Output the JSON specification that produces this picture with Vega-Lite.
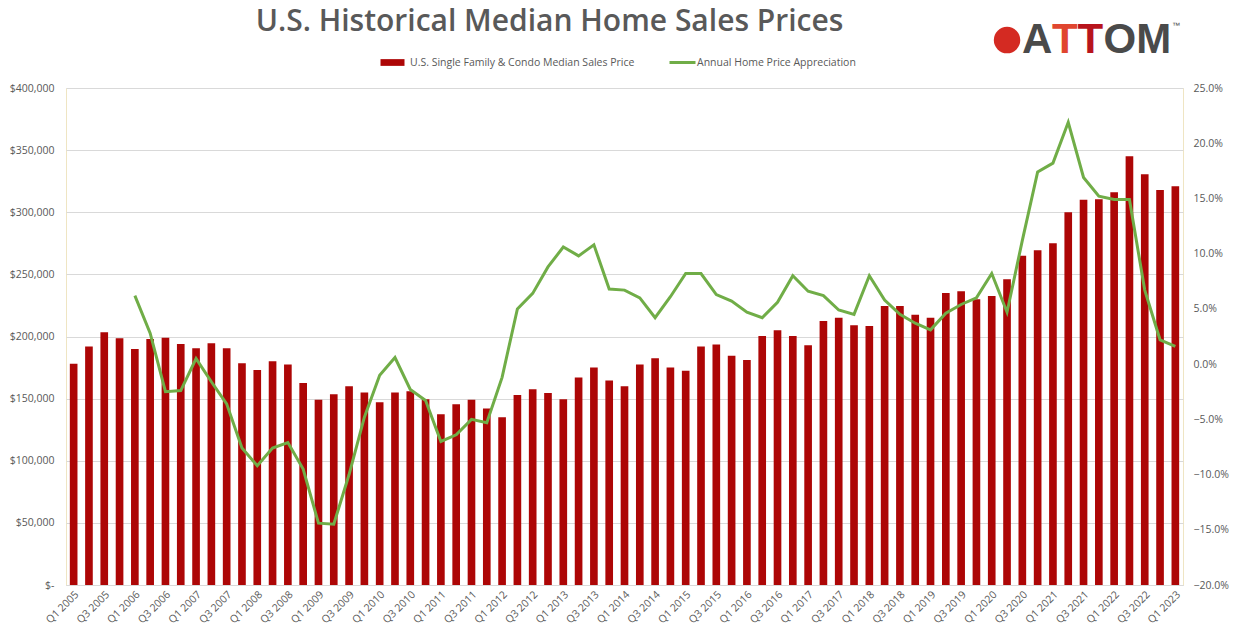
{
  "$schema": "https://vega.github.io/schema/vega-lite/v6.json",
  "width": 1117,
  "height": 497,
  "autosize": {"type": "none"},
  "padding": {"left": 66, "top": 88, "right": 54, "bottom": 55},
  "background": "white",
  "title": {
    "text": "U.S. Historical Median Home Sales Prices",
    "anchor": "middle",
    "frame": "group",
    "dx": -75,
    "offset": -48,
    "baseline": "bottom",
    "fontSize": 30,
    "font": "Open Sans",
    "fontWeight": 600,
    "color": "#595959"
  },
  "data": {
    "values": [
      {"q": "Q1 2005", "price": 178000, "yoy": null},
      {"q": "Q2 2005", "price": 192000, "yoy": null},
      {"q": "Q3 2005", "price": 203500, "yoy": null},
      {"q": "Q4 2005", "price": 198500, "yoy": null},
      {"q": "Q1 2006", "price": 190000, "yoy": 6.2},
      {"q": "Q2 2006", "price": 198000, "yoy": 2.8},
      {"q": "Q3 2006", "price": 199000, "yoy": -2.5},
      {"q": "Q4 2006", "price": 194000, "yoy": -2.4},
      {"q": "Q1 2007", "price": 190500, "yoy": 0.5},
      {"q": "Q2 2007", "price": 194500, "yoy": -1.6},
      {"q": "Q3 2007", "price": 190500, "yoy": -3.6},
      {"q": "Q4 2007", "price": 178500, "yoy": -7.6},
      {"q": "Q1 2008", "price": 173000, "yoy": -9.2},
      {"q": "Q2 2008", "price": 180000, "yoy": -7.6},
      {"q": "Q3 2008", "price": 177500, "yoy": -7.1},
      {"q": "Q4 2008", "price": 162500, "yoy": -9.5},
      {"q": "Q1 2009", "price": 149000, "yoy": -14.4},
      {"q": "Q2 2009", "price": 153500, "yoy": -14.5},
      {"q": "Q3 2009", "price": 160000, "yoy": -10.0},
      {"q": "Q4 2009", "price": 155000, "yoy": -4.8},
      {"q": "Q1 2010", "price": 147000, "yoy": -1.0},
      {"q": "Q2 2010", "price": 155000, "yoy": 0.6},
      {"q": "Q3 2010", "price": 156000, "yoy": -2.3},
      {"q": "Q4 2010", "price": 149500, "yoy": -3.3},
      {"q": "Q1 2011", "price": 137500, "yoy": -7.0},
      {"q": "Q2 2011", "price": 145500, "yoy": -6.4},
      {"q": "Q3 2011", "price": 149000, "yoy": -5.0},
      {"q": "Q4 2011", "price": 142000, "yoy": -5.3},
      {"q": "Q1 2012", "price": 135000, "yoy": -1.2},
      {"q": "Q2 2012", "price": 153000, "yoy": 5.0},
      {"q": "Q3 2012", "price": 157500, "yoy": 6.4},
      {"q": "Q4 2012", "price": 154500, "yoy": 8.8},
      {"q": "Q1 2013", "price": 149500, "yoy": 10.6},
      {"q": "Q2 2013", "price": 167000, "yoy": 9.8},
      {"q": "Q3 2013", "price": 175000, "yoy": 10.8},
      {"q": "Q4 2013", "price": 164500, "yoy": 6.8},
      {"q": "Q1 2014", "price": 160000, "yoy": 6.7},
      {"q": "Q2 2014", "price": 177500, "yoy": 6.0},
      {"q": "Q3 2014", "price": 182500, "yoy": 4.2},
      {"q": "Q4 2014", "price": 175000, "yoy": 6.1},
      {"q": "Q1 2015", "price": 172500, "yoy": 8.2},
      {"q": "Q2 2015", "price": 192000, "yoy": 8.2},
      {"q": "Q3 2015", "price": 193500, "yoy": 6.3},
      {"q": "Q4 2015", "price": 184500, "yoy": 5.7},
      {"q": "Q1 2016", "price": 181000, "yoy": 4.7},
      {"q": "Q2 2016", "price": 200500, "yoy": 4.2},
      {"q": "Q3 2016", "price": 205000, "yoy": 5.6},
      {"q": "Q4 2016", "price": 200500, "yoy": 8.0},
      {"q": "Q1 2017", "price": 193000, "yoy": 6.6},
      {"q": "Q2 2017", "price": 212500, "yoy": 6.2},
      {"q": "Q3 2017", "price": 215000, "yoy": 4.9},
      {"q": "Q4 2017", "price": 209000, "yoy": 4.5},
      {"q": "Q1 2018", "price": 208500, "yoy": 8.0},
      {"q": "Q2 2018", "price": 224500, "yoy": 5.8},
      {"q": "Q3 2018", "price": 224500, "yoy": 4.5},
      {"q": "Q4 2018", "price": 217500, "yoy": 3.7},
      {"q": "Q1 2019", "price": 215000, "yoy": 3.1},
      {"q": "Q2 2019", "price": 235000, "yoy": 4.6},
      {"q": "Q3 2019", "price": 236500, "yoy": 5.4},
      {"q": "Q4 2019", "price": 230000, "yoy": 6.0},
      {"q": "Q1 2020", "price": 232500, "yoy": 8.2},
      {"q": "Q2 2020", "price": 246000, "yoy": 4.7},
      {"q": "Q3 2020", "price": 265000, "yoy": 11.2},
      {"q": "Q4 2020", "price": 269500, "yoy": 17.4},
      {"q": "Q1 2021", "price": 275000, "yoy": 18.2},
      {"q": "Q2 2021", "price": 300000, "yoy": 21.9},
      {"q": "Q3 2021", "price": 310000, "yoy": 16.9},
      {"q": "Q4 2021", "price": 310500, "yoy": 15.2},
      {"q": "Q1 2022", "price": 316000, "yoy": 14.9},
      {"q": "Q2 2022", "price": 345000, "yoy": 14.9},
      {"q": "Q3 2022", "price": 330500, "yoy": 6.7},
      {"q": "Q4 2022", "price": 318000, "yoy": 2.2},
      {"q": "Q1 2023", "price": 321000, "yoy": 1.6}
    ]
  },
  "encoding": {
    "x": {
      "field": "q",
      "type": "ordinal",
      "sort": null,
      "scale": {"paddingInner": 0.5, "paddingOuter": 0.25},
      "axis": {
        "title": null,
        "values": ["Q1 2005","Q3 2005","Q1 2006","Q3 2006","Q1 2007","Q3 2007","Q1 2008","Q3 2008","Q1 2009","Q3 2009","Q1 2010","Q3 2010","Q1 2011","Q3 2011","Q1 2012","Q3 2012","Q1 2013","Q3 2013","Q1 2014","Q3 2014","Q1 2015","Q3 2015","Q1 2016","Q3 2016","Q1 2017","Q3 2017","Q1 2018","Q3 2018","Q1 2019","Q3 2019","Q1 2020","Q3 2020","Q1 2021","Q3 2021","Q1 2022","Q3 2022","Q1 2023"],
        "labelAngle": -45,
        "ticks": false,
        "domain": true,
        "domainColor": "#d9d9d9",
        "labelPadding": 4,
        "labelColor": "#595959",
        "labelFontSize": 10.5,
        "labelFont": "Open Sans"
      }
    }
  },
  "layer": [
    {
      "layer": [
        {
          "mark": {"type": "bar"},
          "encoding": {
            "y": {
              "field": "price",
              "type": "quantitative",
              "scale": {"domain": [0, 400000], "nice": false},
              "axis": {
                "orient": "left",
                "title": null,
                "values": [0, 50000, 100000, 150000, 200000, 250000, 300000, 350000, 400000],
                "labelExpr": "datum.value == 0 ? '$-' : '$' + format(datum.value, ',')",
                "grid": true,
                "gridColor": "#d9d9d9",
                "ticks": false,
                "domain": false,
                "labelPadding": 12,
                "labelColor": "#595959",
                "labelFontSize": 10.5,
                "labelFont": "Open Sans"
              }
            },
            "fill": {
              "datum": "U.S. Single Family & Condo Median Sales Price",
              "type": "nominal",
              "scale": {"range": ["#AD0606"]},
              "legend": {
                "orient": "none",
                "legendX": 319,
                "legendY": -33,
                "title": null,
                "symbolType": "M-1.6,-0.45H1.6V0.45H-1.6Z",
                "symbolSize": 225,
                "symbolStrokeWidth": 0,
                "labelOffset": 10,
                "labelLimit": 500,
                "labelFontSize": 10.5,
                "labelColor": "#595959",
                "labelFont": "Open Sans"
              }
            }
          }
        },
        {
          "transform": [{"filter": "datum.q == 'Q2 2020'"}],
          "mark": {"type": "point", "shape": "circle", "filled": true, "color": "#d42a22", "size": 700, "opacity": 1},
          "encoding": {"y": {"datum": 438600, "type": "quantitative"}}
        },
        {
          "transform": [{"filter": "datum.q == 'Q2 2020'"}],
          "mark": {"type": "text", "text": "A", "align": "left", "baseline": "middle", "dx": 15, "font": "Liberation Sans", "fontWeight": "bold", "fontSize": 42, "color": "#4a4a4a"},
          "encoding": {"y": {"datum": 438600, "type": "quantitative"}}
        },
        {
          "transform": [{"filter": "datum.q == 'Q2 2020'"}],
          "mark": {"type": "text", "text": "T", "align": "left", "baseline": "middle", "dx": 45, "font": "Liberation Sans", "fontWeight": "bold", "fontSize": 42, "color": "#e0462f"},
          "encoding": {"y": {"datum": 438600, "type": "quantitative"}}
        },
        {
          "transform": [{"filter": "datum.q == 'Q2 2020'"}],
          "mark": {"type": "text", "text": "T", "align": "left", "baseline": "middle", "dx": 70.5, "font": "Liberation Sans", "fontWeight": "bold", "fontSize": 42, "color": "#b8141c"},
          "encoding": {"y": {"datum": 438600, "type": "quantitative"}}
        },
        {
          "transform": [{"filter": "datum.q == 'Q2 2020'"}],
          "mark": {"type": "text", "text": "OM", "align": "left", "baseline": "middle", "dx": 96.5, "font": "Liberation Sans", "fontWeight": "bold", "fontSize": 42, "color": "#4a4a4a"},
          "encoding": {"y": {"datum": 438600, "type": "quantitative"}}
        },
        {
          "transform": [{"filter": "datum.q == 'Q2 2020'"}],
          "mark": {"type": "text", "text": "™", "align": "left", "baseline": "middle", "dx": 165, "dy": -14, "font": "Liberation Sans", "fontSize": 8, "color": "#4a4a4a"},
          "encoding": {"y": {"datum": 438600, "type": "quantitative"}}
        }
      ]
    },
    {
      "mark": {"type": "line", "strokeWidth": 3, "interpolate": "linear"},
      "encoding": {
        "y": {
          "field": "yoy",
          "type": "quantitative",
          "scale": {"domain": [-20, 25], "nice": false},
          "axis": {
            "orient": "right",
            "title": null,
            "values": [-20, -15, -10, -5, 0, 5, 10, 15, 20, 25],
            "labelExpr": "format(datum.value, '.1f') + '%'",
            "grid": false,
            "ticks": false,
            "domain": false,
            "labelPadding": 10,
            "labelColor": "#595959",
            "labelFontSize": 10.5,
            "labelFont": "Open Sans"
          }
        },
        "stroke": {
          "datum": "Annual Home Price Appreciation",
          "type": "nominal",
          "scale": {"range": ["#70AD47"]},
          "legend": {
            "orient": "none",
            "legendX": 602,
            "legendY": -40,
            "title": null,
            "symbolType": "stroke",
            "symbolSize": 676,
            "symbolStrokeWidth": 3,
            "labelOffset": 0,
            "labelLimit": 500,
            "labelFontSize": 10.5,
            "labelColor": "#595959",
            "labelFont": "Open Sans"
          }
        }
      }
    }
  ],
  "resolve": {"scale": {"y": "independent"}},
  "config": {
    "view": {"stroke": "#efe5c3", "strokeWidth": 1},
    "font": "Open Sans"
  }
}
